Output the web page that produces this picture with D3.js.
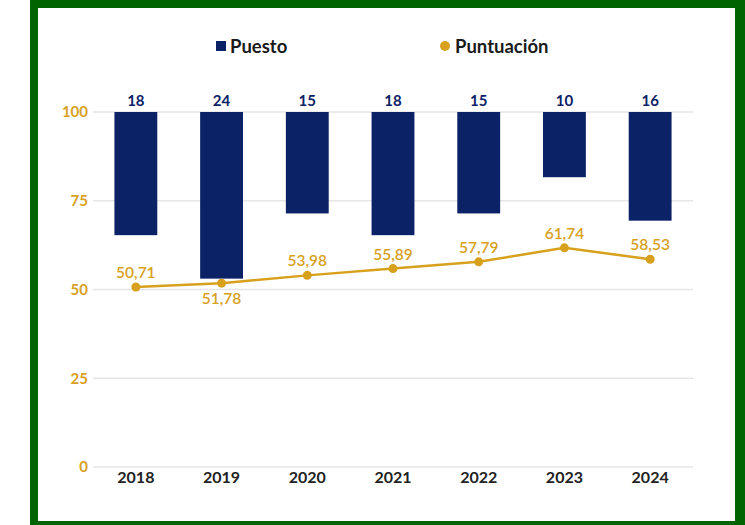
<!DOCTYPE html>
<html>
<head>
<meta charset="utf-8">
<script src="https://cdn.jsdelivr.net/npm/d3@7"></script>
<style>
  html, body { margin: 0; padding: 0; background: #ffffff; }
  svg { display: block; }
</style>
</head>
<body>
<div id="chart"></div>
<script>
const years = ["2018", "2019", "2020", "2021", "2022", "2023", "2024"];
const puesto = [18, 24, 15, 18, 15, 10, 16];
const puntuacion = [50.71, 51.78, 53.98, 55.89, 57.79, 61.74, 58.53];
const yTicks = [0, 25, 50, 75, 100];
const labelBelow = [false, true, false, false, false, false, false];

const W = 745, H = 525;
const NAVY = "#0b2266";
const GOLD = "#d7a11d";
const FONT = "Lato, 'Open Sans', sans-serif";

const svg = d3.select("#chart").append("svg")
  .attr("width", W).attr("height", H);

// frame
svg.append("rect").attr("x", 30).attr("y", -10).attr("width", 730).attr("height", 545)
  .attr("fill", "#006400");
svg.append("rect").attr("x", 38).attr("y", 8).attr("width", 697).attr("height", 513)
  .attr("fill", "#ffffff");

const x = d3.scaleBand().domain(years).range([93, 693])
  .paddingInner(0.5).paddingOuter(0.25);
const y = d3.scaleLinear().domain([0, 100]).range([467, 112]);
const yRank = d3.scaleLinear().domain([1, 50]).range([112, 467]);

// gridlines
svg.append("g").selectAll("line").data(yTicks).join("line")
  .attr("x1", 93).attr("x2", 693)
  .attr("y1", d => y(d)).attr("y2", d => y(d))
  .attr("stroke", "#e6e6e6").attr("stroke-width", 1.5);

// y axis labels
const yAxis = d3.axisLeft(y).tickValues(yTicks).tickSize(0).tickPadding(0);
const gy = svg.append("g").attr("transform", "translate(88,0)").call(yAxis);
gy.select(".domain").remove();
gy.selectAll("text").attr("fill", GOLD).attr("font-family", FONT)
  .attr("font-size", 15).attr("font-weight", 700);

// x axis labels
const xAxis = d3.axisBottom(x).tickSize(0).tickPadding(0);
const gx = svg.append("g").attr("transform", "translate(0,472)").call(xAxis);
gx.select(".domain").remove();
gx.selectAll("text").attr("fill", "#222222").attr("font-family", FONT)
  .attr("font-size", 16).attr("font-weight", 700);

// bars
svg.append("g").selectAll("rect").data(years).join("rect")
  .attr("x", d => x(d)).attr("width", x.bandwidth())
  .attr("y", yRank(1))
  .attr("height", (d, i) => yRank(puesto[i]) - yRank(1))
  .attr("fill", NAVY);

// bar labels
svg.append("g").selectAll("text").data(years).join("text")
  .attr("x", d => x(d) + x.bandwidth() / 2)
  .attr("y", yRank(1) - 6)
  .attr("text-anchor", "middle")
  .attr("fill", NAVY).attr("font-family", FONT)
  .attr("font-size", 15).attr("font-weight", 700)
  .text((d, i) => puesto[i]);

// line
const line = d3.line()
  .x((d, i) => x(years[i]) + x.bandwidth() / 2)
  .y(d => y(d));
svg.append("path").datum(puntuacion)
  .attr("d", line).attr("fill", "none")
  .attr("stroke", GOLD).attr("stroke-width", 2.5);

svg.append("g").selectAll("circle").data(puntuacion).join("circle")
  .attr("cx", (d, i) => x(years[i]) + x.bandwidth() / 2)
  .attr("cy", d => y(d)).attr("r", 4.5)
  .attr("fill", GOLD);

const fmt = d => d.toFixed(2).replace(".", ",");
svg.append("g").selectAll("text").data(puntuacion).join("text")
  .attr("x", (d, i) => x(years[i]) + x.bandwidth() / 2)
  .attr("y", (d, i) => labelBelow[i] ? y(d) + 21 : y(d) - 9)
  .attr("text-anchor", "middle")
  .attr("fill", GOLD).attr("font-family", FONT)
  .attr("font-size", 15.5).attr("font-weight", 600)
  .text(fmt);

// legend
const lg = svg.append("g");
lg.append("rect").attr("x", 216).attr("y", 41).attr("width", 10).attr("height", 10).attr("fill", NAVY);
lg.append("text").attr("x", 230).attr("y", 52.5)
  .attr("font-family", FONT).attr("font-size", 18.5).attr("font-weight", 700)
  .attr("fill", "#1a1a1a").text("Puesto");
lg.append("circle").attr("cx", 445).attr("cy", 46).attr("r", 5).attr("fill", GOLD);
lg.append("text").attr("x", 455).attr("y", 52.5)
  .attr("font-family", FONT).attr("font-size", 18.5).attr("font-weight", 700)
  .attr("fill", "#1a1a1a").text("Puntuación");
</script>
</body>
</html>
